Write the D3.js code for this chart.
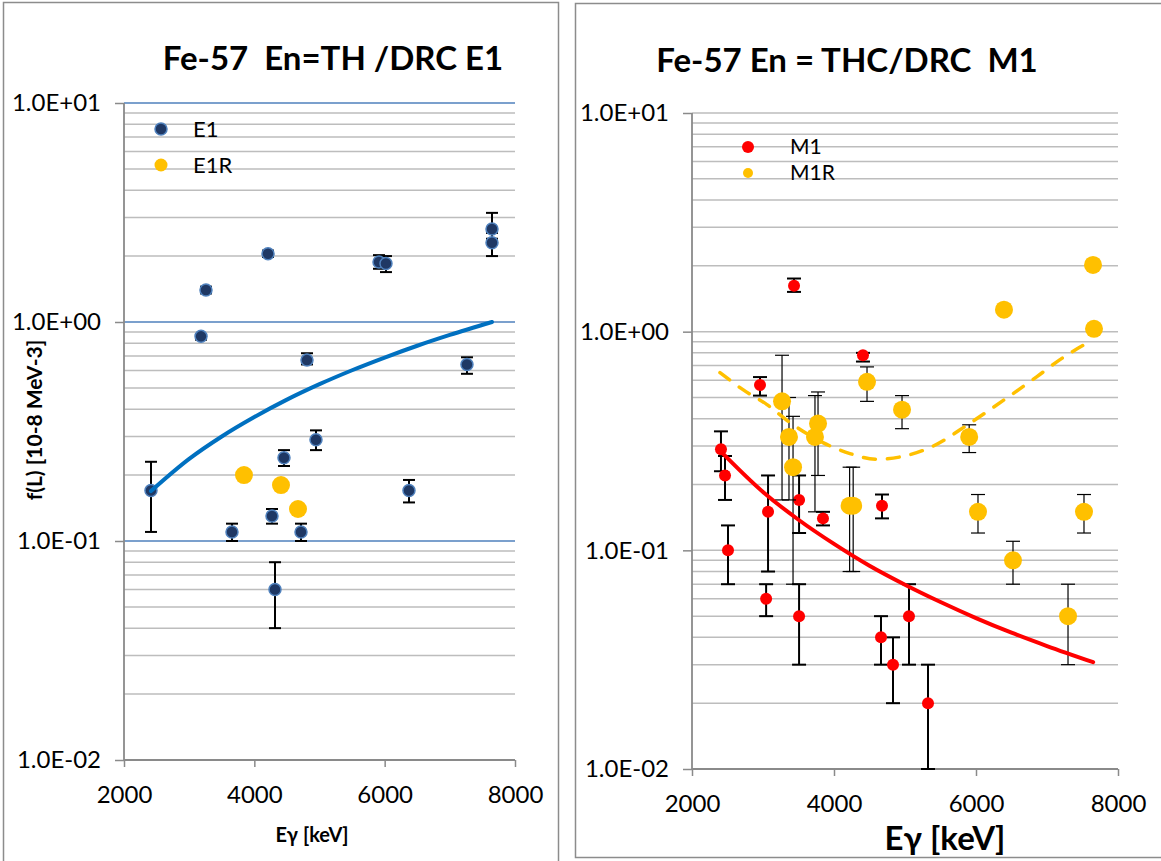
<!DOCTYPE html>
<html>
<head>
<meta charset="utf-8">
<script src="https://cdn.jsdelivr.net/npm/d3@7"></script>
<style>
  body { margin: 0; background: #fff; }
  text { font-family: Lato, "Noto Sans", sans-serif; fill: #000; }
</style>
</head>
<body>
<div id="chart"></div>
<script>
// ---- data ----
var xTicks = [2000, 4000, 6000, 8000];
var yTicks = [0.01, 0.1, 1, 10];
var yTickLabels = ["1.0E-02", "1.0E-01", "1.0E+00", "1.0E+01"];

// left panel: E1
var e1Energy = [2414, 3182, 3258, 3657, 4210, 4271, 4317, 4455, 4716, 4808, 4946, 5913, 6020, 6373, 7263, 7647, 7647];
var e1Value  = [0.17, 0.86, 1.40, 0.11, 2.05, 0.13, 0.06, 0.24, 0.11, 0.67, 0.29, 1.88, 1.85, 0.17, 0.64, 2.66, 2.30];
var e1Low    = [0.11, 0.83, 1.35, 0.10, 1.98, 0.12, 0.04, 0.22, 0.10, 0.64, 0.26, 1.75, 1.69, 0.15, 0.58, 2.40, 2.00];
var e1High   = [0.23, 0.88, 1.45, 0.12, 2.12, 0.14, 0.08, 0.26, 0.12, 0.72, 0.32, 2.02, 2.00, 0.19, 0.69, 3.15, 2.55];
var e1rEnergy = [3841, 4409, 4670];
var e1rValue  = [0.20, 0.18, 0.14];
var e1CurveEnergy = [2414, 3000, 3500, 4000, 4500, 5000, 5500, 6000, 6500, 7000, 7647];
var e1CurveValue  = [0.169, 0.237, 0.300, 0.368, 0.442, 0.520, 0.602, 0.688, 0.779, 0.873, 1.0];

// right panel: M1
var m1Energy = [2408, 2465, 2507, 2958, 3044, 3071, 3437, 3508, 3508, 3845, 4408, 4662, 4676, 4831, 5056, 5324];
var m1Value  = [0.29, 0.22, 0.10, 0.57, 0.06, 0.15, 1.62, 0.17, 0.05, 0.14, 0.78, 0.04, 0.16, 0.03, 0.05, 0.02];
var m1Low    = [0.23, 0.17, 0.07, 0.51, 0.05, 0.08, 1.52, 0.12, 0.03, 0.13, 0.73, 0.03, 0.14, 0.02, 0.03, 0.01];
var m1High   = [0.35, 0.27, 0.13, 0.62, 0.07, 0.22, 1.75, 0.22, 0.07, 0.15, 0.80, 0.05, 0.18, 0.04, 0.07, 0.03];
var m1rEnergy = [3268, 3366, 3423, 3732, 3775, 4220, 4270, 4465, 4958, 5904, 6028, 6394, 6521, 7296, 7521, 7648, 7662];
var m1rValue  = [0.48, 0.33, 0.24, 0.33, 0.38, 0.16, 0.16, 0.59, 0.44, 0.33, 0.15, 1.26, 0.09, 0.05, 0.15, 2.02, 1.03];
var m1rLow    = [0.17, 0.17, 0.07, 0.15, 0.22, 0.08, 0.08, 0.48, 0.36, 0.28, 0.12, null, 0.07, 0.03, 0.12, null, null];
var m1rHigh   = [0.78, 0.50, 0.41, 0.51, 0.53, 0.24, 0.24, 0.69, 0.51, 0.375, 0.18, null, 0.11, 0.07, 0.18, null, null];
var m1CurveEnergy = [2408, 3000, 3500, 4000, 4500, 5000, 5500, 6000, 6500, 7000, 7650];
var m1CurveValue  = [0.283, 0.185, 0.138, 0.107, 0.085, 0.0696, 0.058, 0.049, 0.042, 0.0365, 0.0308];
var m1rCurveEnergy = [2394, 2718, 3056, 3380, 3845, 4225, 4606, 4972, 5352, 5887, 6240, 6859, 7183, 7648];
var m1rCurveValue  = [0.650, 0.543, 0.464, 0.384, 0.311, 0.277, 0.261, 0.269, 0.295, 0.376, 0.450, 0.623, 0.745, 0.918];

var svg = d3.select("#chart")
    .append("svg")
    .attr("width", 1161)
    .attr("height", 861);

// panel frames
svg.append("rect").attr("x", 3.5).attr("y", 2.5).attr("width", 555).attr("height", 880)
    .style("fill", "none").style("stroke", "#8c8c8c").style("stroke-width", 1.5);
svg.append("rect").attr("x", 575.5).attr("y", 3.5).attr("width", 620).attr("height", 854)
    .style("fill", "none").style("stroke", "#8c8c8c").style("stroke-width", 1.5);

function zip(a, b, lo, hi) {
    return a.map(function (d, i) {
        return { e: d, v: b[i], lo: lo ? lo[i] : null, hi: hi ? hi[i] : null };
    });
}

function makePanel(left, top, w, h, majorColor) {
    var g = svg.append("g").attr("transform", "translate(" + left + "," + top + ")");
    var x = d3.scaleLinear().domain([2000, 8000]).range([0, w]);
    var y = d3.scaleLog().domain([0.01, 10]).range([h, 0]);

    // gridlines
    g.append("g").selectAll("line")
        .data(y.ticks().filter(function (d) { return d > 0.01; }))
        .enter().append("line")
        .attr("x1", 0).attr("x2", w)
        .attr("y1", function (d) { return y(d); })
        .attr("y2", function (d) { return y(d); })
        .style("stroke", function (d) {
            var major = Math.abs(Math.log10(d) - Math.round(Math.log10(d))) < 1e-6;
            return major && majorColor ? majorColor : "#bdbdbd";
        })
        .style("stroke-width", 1.5);

    // axes
    var yAxis = g.append("g")
        .call(d3.axisLeft(y).tickValues(yTicks).tickSize(9)
            .tickFormat(function (d, i) { return yTickLabels[i]; }));
    var xAxis = g.append("g")
        .attr("transform", "translate(0," + h + ")")
        .call(d3.axisBottom(x).tickValues(xTicks).tickSize(7).tickPadding(19).tickFormat(d3.format("d")));
    [xAxis, yAxis].forEach(function (a) {
        a.select(".domain").style("stroke", "#8a8a8a").style("stroke-width", 1.8);
        a.selectAll(".tick line").style("stroke", "#8a8a8a").style("stroke-width", 1.5);
        a.selectAll(".tick text").style("font-size", "24px").style("fill", "#000")
            .style("font-family", "Lato, sans-serif");
    });
    yAxis.selectAll(".tick text").attr("x", -23);
    yAxis.select(".domain").attr("d", "M0,0V" + h);
    xAxis.select(".domain").attr("d", "M0,0H" + w);
    return { g: g, x: x, y: y };
}

function errorBars(p, data, width, half) {
    var eb = p.g.append("g").selectAll("g")
        .data(data.filter(function (d) { return d.lo != null; }))
        .enter().append("g")
        .style("stroke", "#000").style("stroke-width", width);
    eb.append("line")
        .attr("x1", function (d) { return p.x(d.e); }).attr("x2", function (d) { return p.x(d.e); })
        .attr("y1", function (d) { return p.y(d.lo); }).attr("y2", function (d) { return p.y(d.hi); });
    eb.append("line")
        .attr("x1", function (d) { return p.x(d.e) - half; }).attr("x2", function (d) { return p.x(d.e) + half; })
        .attr("y1", function (d) { return p.y(d.lo); }).attr("y2", function (d) { return p.y(d.lo); });
    eb.append("line")
        .attr("x1", function (d) { return p.x(d.e) - half; }).attr("x2", function (d) { return p.x(d.e) + half; })
        .attr("y1", function (d) { return p.y(d.hi); }).attr("y2", function (d) { return p.y(d.hi); });
}

function dots(p, data, r, fill, stroke) {
    p.g.append("g").selectAll("circle")
        .data(data).enter().append("circle")
        .attr("cx", function (d) { return p.x(d.e); })
        .attr("cy", function (d) { return p.y(d.v); })
        .attr("r", r)
        .style("fill", fill)
        .style("stroke", stroke || "none")
        .style("stroke-width", 1.5);
}

function curve(p, data, color, width, dash) {
    p.g.append("path")
        .datum(data)
        .attr("d", d3.line().curve(d3.curveMonotoneX)
            .x(function (d) { return p.x(d.e); })
            .y(function (d) { return p.y(d.v); }))
        .style("fill", "none")
        .style("stroke", color)
        .style("stroke-width", width)
        .style("stroke-linecap", "round")
        .style("stroke-dasharray", dash || null);
}

// ---------- left panel ----------
var L = makePanel(124, 103, 391, 657, "#4f81bd");
var e1 = zip(e1Energy, e1Value, e1Low, e1High);
errorBars(L, e1, 2, 6);
dots(L, e1, 6, "#1f3864", "#4f81bd");
dots(L, zip(e1rEnergy, e1rValue), 9, "#ffc000");
curve(L, zip(e1CurveEnergy, e1CurveValue), "#0070c0", 4);

svg.append("text").attr("x", 333).attr("y", 70).attr("text-anchor", "middle")
    .style("white-space", "pre")
    .style("font-size", "33px").style("font-weight", "bold").text("Fe-57  En=TH /DRC E1");
svg.append("text").attr("transform", "translate(42,420) rotate(-90)").attr("text-anchor", "middle")
    .style("font-size", "21px").style("font-weight", "bold").text("f(L) [10-8 MeV-3]");
svg.append("text").attr("x", 312).attr("y", 842).attr("text-anchor", "middle")
    .style("font-size", "20px").style("font-weight", "bold").text("Eγ [keV]");

// legend left
svg.append("circle").attr("cx", 161).attr("cy", 129).attr("r", 6)
    .style("fill", "#1f3864").style("stroke", "#4f81bd").style("stroke-width", 1.5);
svg.append("text").attr("x", 193).attr("y", 137).style("font-size", "22px").text("E1");
svg.append("circle").attr("cx", 161).attr("cy", 165).attr("r", 6.5).style("fill", "#ffc000");
svg.append("text").attr("x", 193).attr("y", 173).style("font-size", "22px").text("E1R");

// ---------- right panel ----------
var R = makePanel(692, 113, 426, 656, null);
var m1 = zip(m1Energy, m1Value, m1Low, m1High);
var m1r = zip(m1rEnergy, m1rValue, m1rLow, m1rHigh);
errorBars(R, m1, 2, 7);
dots(R, m1, 6, "#ff0000");
errorBars(R, m1r, 1.2, 7);
dots(R, m1r, 9, "#ffc000");
curve(R, zip(m1CurveEnergy, m1CurveValue), "#ff0000", 4);
curve(R, zip(m1rCurveEnergy, m1rCurveValue), "#ffc000", 3.5, "12,12");

svg.append("text").attr("x", 847).attr("y", 72).attr("text-anchor", "middle")
    .style("white-space", "pre")
    .style("font-size", "33px").style("font-weight", "bold").text("Fe-57 En = THC/DRC  M1");
svg.append("text").attr("x", 945).attr("y", 850).attr("text-anchor", "middle")
    .style("font-size", "33px").style("font-weight", "bold").text("Eγ [keV]");

// legend right
svg.append("circle").attr("cx", 748).attr("cy", 147).attr("r", 6).style("fill", "#ff0000");
svg.append("text").attr("x", 790).attr("y", 154).style("font-size", "21px").text("M1");
svg.append("circle").attr("cx", 748).attr("cy", 173).attr("r", 5).style("fill", "#ffc000");
svg.append("text").attr("x", 790).attr("y", 180).style("font-size", "21px").text("M1R");
</script>
</body>
</html>
